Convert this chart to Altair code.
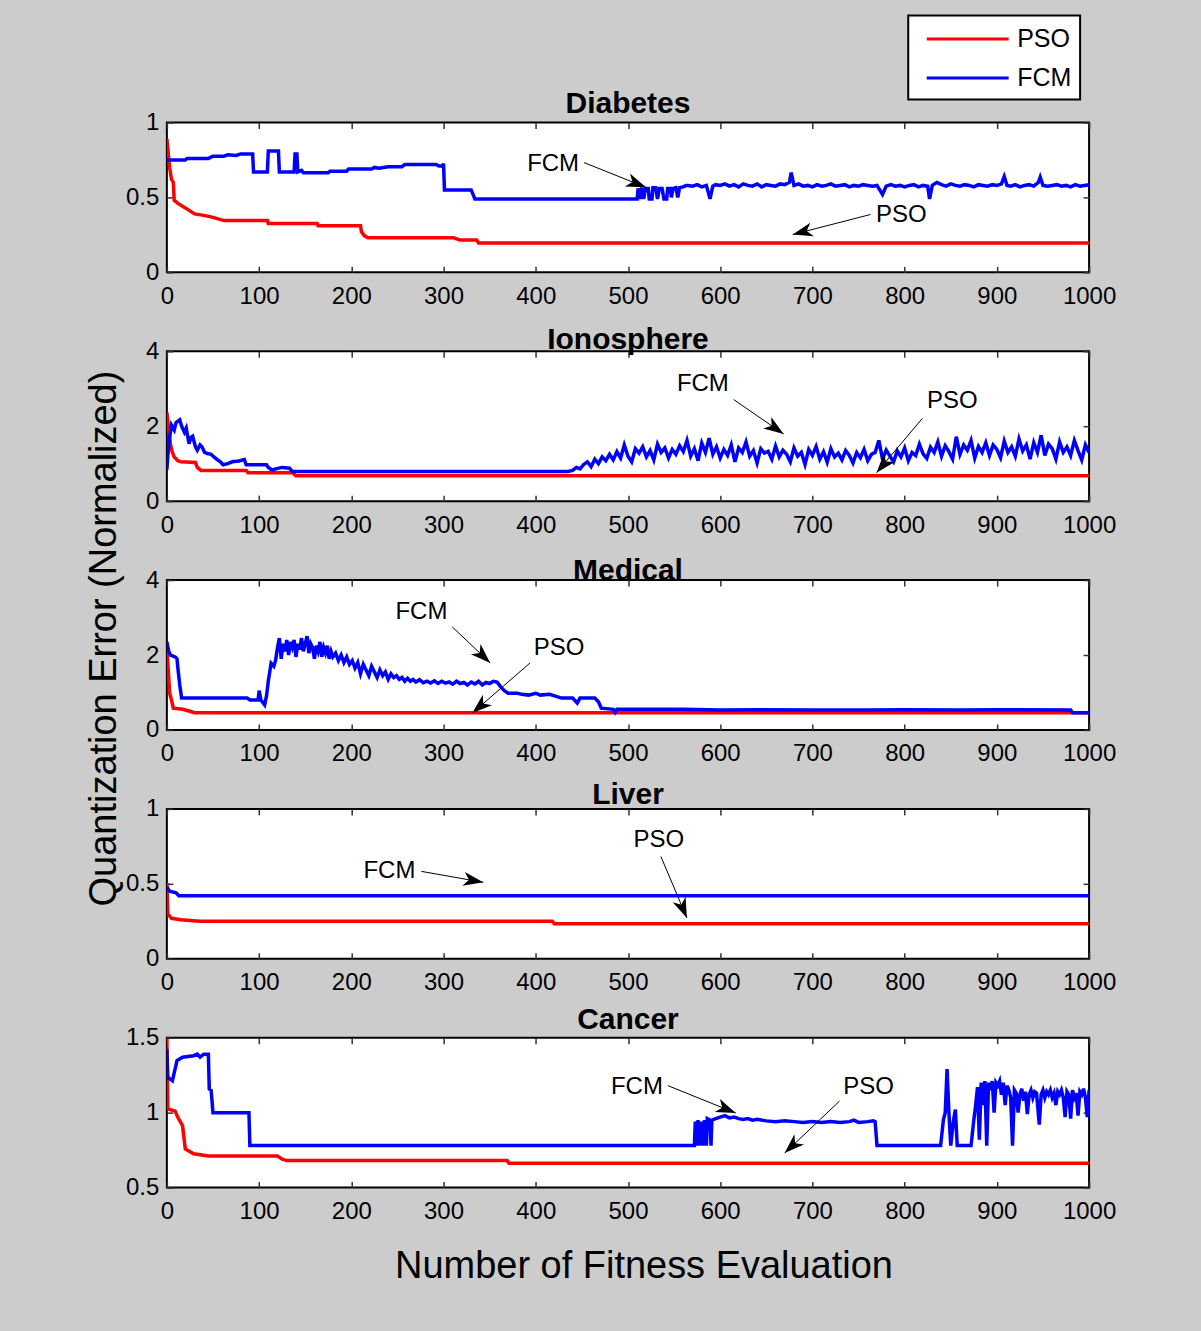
import math
import altair as alt
import pandas as pd

FONT = "Liberation Sans"
SERIES = ["PSO", "FCM"]
SERIES_COLORS = ["#ff0000", "#0000ff"]
X_TICKS = [0, 100, 200, 300, 400, 500, 600, 700, 800, 900, 1000]

# ---------------- data (x = fitness evaluation, y = normalized quantization error)
DIAB_PSO = [(0, 0.89), (3, 0.70), (5, 0.62), (7, 0.60), (8, 0.48), (12, 0.46), (20, 0.43), (30, 0.39),
            (40, 0.38), (48, 0.37), (62, 0.345), (109, 0.345), (110, 0.325), (163, 0.325), (164, 0.31),
            (210, 0.31), (211, 0.27), (214, 0.245), (218, 0.23), (311, 0.23), (318, 0.215), (336, 0.215),
            (338, 0.195), (1000, 0.195)]
DIAB_FCM = [(0, 0.75), (20, 0.75), (22, 0.76), (45, 0.76), (50, 0.775), (62, 0.775), (66, 0.785), (75, 0.78),
            (80, 0.79), (93, 0.79), (94, 0.67), (109, 0.67), (110, 0.81), (121, 0.81), (122, 0.67), (138, 0.67),
            (139, 0.79), (141, 0.79), (142, 0.67), (146, 0.68), (148, 0.665), (175, 0.665), (177, 0.675),
            (195, 0.675), (197, 0.69), (222, 0.69), (225, 0.70), (230, 0.695), (240, 0.705), (255, 0.705),
            (258, 0.72), (292, 0.72), (295, 0.71), (299, 0.71), (300, 0.725), (301, 0.55), (330, 0.55),
            (334, 0.49), (510, 0.49), (511, 0.56), (513, 0.49), (515, 0.565), (517, 0.49), (519, 0.56),
            (522, 0.56), (523, 0.49), (526, 0.49), (527, 0.565), (530, 0.565), (532, 0.49), (534, 0.56),
            (537, 0.56), (539, 0.49), (542, 0.49), (543, 0.56), (546, 0.56), (547, 0.50), (549, 0.56),
            (552, 0.565), (554, 0.50), (556, 0.565), (560, 0.57), (563, 0.58), (565, 0.58), (570, 0.575),
            (575, 0.585), (580, 0.57), (585, 0.58), (589, 0.49), (592, 0.575), (595, 0.585), (600, 0.58),
            (605, 0.59), (610, 0.575), (615, 0.585), (620, 0.57), (625, 0.59), (630, 0.58), (635, 0.575),
            (640, 0.59), (645, 0.57), (650, 0.585), (655, 0.58), (660, 0.575), (665, 0.59), (670, 0.585),
            (675, 0.60), (677, 0.665), (680, 0.58), (685, 0.59), (690, 0.575), (695, 0.58), (700, 0.57),
            (705, 0.585), (710, 0.575), (715, 0.58), (720, 0.59), (725, 0.575), (730, 0.58), (735, 0.585),
            (740, 0.57), (745, 0.58), (750, 0.575), (755, 0.585), (760, 0.58), (765, 0.575), (770, 0.58),
            (776, 0.52), (780, 0.575), (785, 0.585), (790, 0.575), (795, 0.58), (800, 0.57), (805, 0.58),
            (810, 0.585), (815, 0.57), (820, 0.58), (825, 0.575), (827, 0.49), (830, 0.58), (835, 0.60),
            (840, 0.585), (845, 0.575), (850, 0.59), (855, 0.58), (860, 0.575), (865, 0.585), (870, 0.58),
            (875, 0.57), (880, 0.585), (885, 0.58), (890, 0.575), (895, 0.585), (900, 0.58), (905, 0.59),
            (908, 0.64), (911, 0.58), (915, 0.575), (920, 0.585), (925, 0.57), (930, 0.58), (935, 0.585),
            (940, 0.575), (945, 0.60), (947, 0.635), (950, 0.58), (955, 0.575), (960, 0.58), (965, 0.585),
            (970, 0.575), (975, 0.58), (980, 0.57), (985, 0.585), (990, 0.575), (995, 0.58), (1000, 0.585)]

IONO_PSO = [(0, 2.37), (2, 1.9), (4, 1.5), (6, 1.3), (8, 1.18), (12, 1.08), (15, 1.05), (31, 1.03), (33, 0.9),
            (37, 0.82), (86, 0.82), (88, 0.76), (136, 0.76), (140, 0.68), (1000, 0.68)]
IONO_FCM_START = [(0, 0.84), (1, 1.2), (3, 1.7), (5, 2.03), (8, 1.9), (10, 2.1), (14, 2.17), (16, 2.0),
                  (19, 1.84), (21, 1.95), (24, 1.53), (26, 1.7), (28, 1.73), (31, 1.45), (33, 1.36), (36, 1.5),
                  (38, 1.45), (41, 1.3), (44, 1.27), (48, 1.25), (51, 1.18), (55, 1.1), (58, 1.05), (61, 0.97),
                  (66, 1.0), (71, 1.05), (78, 1.07), (84, 1.11), (86, 0.97), (108, 0.97), (110, 0.9),
                  (114, 0.83), (118, 0.86), (125, 0.9), (133, 0.88), (136, 0.79), (435, 0.79)]
# noisy stretch read every 4 evaluations from x = 440 to x = 1000
IONO_FCM_NOISY = [0.82, 0.9, 0.86, 0.98, 1.05, 0.92, 1.12, 1.0, 1.18, 1.08,
                  1.25, 1.1, 1.32, 1.15, 1.5, 1.2, 1.05, 1.4, 1.28, 1.45,
                  1.18, 1.35, 1.1, 1.52, 1.3, 1.42, 1.15, 1.38, 1.25, 1.48,
                  1.32, 1.62, 1.2, 1.4, 1.08, 1.55, 1.3, 1.68, 1.25, 1.45,
                  1.15, 1.38, 1.22, 1.5, 1.05, 1.42, 1.3, 1.58, 1.2, 1.35,
                  1.02, 1.4, 1.28, 1.33, 1.12, 1.47, 1.18, 1.36, 1.25, 1.05,
                  1.42, 1.2, 1.3, 0.98, 1.38, 1.22, 1.46, 1.12, 1.32, 1.04,
                  1.4, 1.18, 1.28, 1.1, 1.35, 1.22, 1.02, 1.3, 1.16, 1.38,
                  1.08, 1.25, 1.3, 1.62, 1.12, 1.36, 1.2, 1.05, 1.34, 1.18,
                  1.42, 1.08, 1.3, 1.22, 1.52, 1.26, 1.14, 1.44, 1.3, 1.58,
                  1.2, 1.48, 1.32, 1.12, 1.72, 1.25, 1.5, 1.36, 1.62, 1.15,
                  1.46, 1.3, 1.56, 1.22, 1.5, 1.38, 1.16, 1.6, 1.3, 1.45,
                  1.2, 1.66, 1.34, 1.5, 1.12, 1.56, 1.3, 1.76, 1.22, 1.52,
                  1.4, 1.12, 1.58, 1.3, 1.45, 1.22, 1.62, 1.35, 1.1, 1.5,
                  1.3]
IONO_FCM = IONO_FCM_START + list(zip(range(440, 1001, 4), IONO_FCM_NOISY))

MED_PSO = [(0, 2.22), (2, 1.4), (3, 0.98), (5, 0.8), (7, 0.58), (17, 0.55), (25, 0.5), (30, 0.46), (1000, 0.46)]
MED_FCM = [(0, 2.35), (2, 2.1), (4, 2.0), (9, 1.95), (11, 1.9), (12, 1.64), (14, 1.2), (16, 0.85), (87, 0.85),
           (90, 0.8), (99, 0.8), (100, 1.05), (102, 0.8), (106, 0.67), (108, 0.9), (110, 1.3), (113, 1.78),
           (116, 1.7), (118, 1.87), (120, 2.2), (122, 2.45), (124, 1.9), (126, 2.3), (128, 2.1), (130, 2.4),
           (132, 2.0), (134, 2.35), (136, 2.2), (138, 2.4), (140, 1.95), (142, 2.3), (144, 2.15), (146, 2.45),
           (148, 2.1), (150, 2.3), (152, 2.5), (154, 2.05), (156, 2.3), (158, 2.2), (160, 1.9), (162, 2.25),
           (164, 2.1), (166, 2.35), (168, 1.95), (170, 2.2), (172, 2.05), (174, 2.25), (176, 1.9), (178, 2.1),
           (180, 1.95), (183, 2.05), (186, 1.85), (189, 2.0), (192, 1.8), (195, 1.95), (198, 1.75), (201, 1.85),
           (204, 1.65), (207, 1.8), (210, 1.5), (213, 1.75), (216, 1.6), (219, 1.45), (222, 1.7), (225, 1.55),
           (228, 1.4), (231, 1.6), (234, 1.45), (237, 1.55), (240, 1.35), (243, 1.5), (246, 1.4), (249, 1.45),
           (252, 1.35), (255, 1.4), (258, 1.3), (261, 1.38), (264, 1.3), (267, 1.35), (270, 1.28), (274, 1.34),
           (278, 1.26), (282, 1.3), (286, 1.25), (290, 1.31), (294, 1.24), (298, 1.3), (302, 1.25), (306, 1.28),
           (310, 1.22), (314, 1.3), (318, 1.24), (322, 1.27), (326, 1.2), (330, 1.28), (334, 1.23), (338, 1.3),
           (342, 1.2), (346, 1.27), (350, 1.24), (354, 1.3), (358, 1.28), (362, 1.15), (366, 1.05), (370, 0.98),
           (380, 0.98), (385, 0.95), (392, 0.93), (400, 0.98), (405, 0.93), (415, 0.95), (428, 0.85),
           (440, 0.85), (445, 0.72), (448, 0.85), (464, 0.85), (468, 0.75), (471, 0.58), (484, 0.55),
           (486, 0.47), (488, 0.55), (520, 0.55), (560, 0.55), (600, 0.53), (640, 0.54), (700, 0.53),
           (760, 0.53), (800, 0.54), (860, 0.53), (900, 0.54), (980, 0.53), (982, 0.46), (1000, 0.46)]

LIV_PSO = [(0, 0.505), (1, 0.30), (5, 0.27), (15, 0.26), (36, 0.25), (418, 0.25), (420, 0.234), (1000, 0.234)]
LIV_FCM = [(0, 0.48), (3, 0.45), (10, 0.44), (13, 0.42), (1000, 0.42)]

CAN_PSO = [(0, 1.5), (1, 1.025), (9, 1.01), (12, 0.967), (17, 0.913), (20, 0.758), (29, 0.725), (45, 0.71),
           (120, 0.71), (125, 0.69), (130, 0.68), (369, 0.68), (371, 0.662), (1000, 0.662)]
CAN_FCM = [(0, 1.425), (1, 1.235), (6, 1.213), (11, 1.347), (17, 1.37), (29, 1.38), (33, 1.39), (36, 1.37),
           (40, 1.39), (45, 1.39), (46, 1.158), (48, 1.15), (50, 1.0), (89, 1.0), (90, 0.78), (572, 0.78),
           (573, 0.94), (574, 0.78), (576, 0.95), (577, 0.78), (580, 0.94), (581, 0.78), (583, 0.95),
           (585, 0.78), (586, 0.96), (589, 0.95), (590, 0.78), (591, 0.95), (595, 0.96), (600, 0.97),
           (605, 0.98), (610, 0.965), (615, 0.97), (620, 0.96), (625, 0.955), (630, 0.96), (635, 0.95),
           (640, 0.955), (650, 0.945), (660, 0.94), (670, 0.945), (680, 0.94), (690, 0.935), (700, 0.94),
           (710, 0.935), (720, 0.94), (730, 0.935), (740, 0.94), (745, 0.95), (750, 0.935), (760, 0.94),
           (766, 0.945), (768, 0.94), (770, 0.78), (839, 0.78), (842, 0.95), (844, 1.0), (846, 1.29),
           (848, 1.0), (850, 0.78), (853, 0.95), (855, 1.02), (857, 0.78), (872, 0.78), (875, 0.95),
           (877, 1.05), (879, 1.17), (881, 0.82), (883, 1.2), (885, 1.05), (887, 1.21), (889, 0.78),
           (891, 1.2), (893, 1.15), (895, 1.21), (897, 1.0), (899, 1.2), (901, 1.18), (903, 1.21),
           (905, 1.12), (907, 1.2), (909, 1.05), (911, 1.18), (913, 1.15), (915, 1.1), (917, 0.78),
           (919, 1.15), (921, 1.13), (923, 1.0), (925, 1.12), (927, 1.16), (929, 1.08), (931, 1.14),
           (933, 0.99), (935, 1.12), (937, 1.15), (939, 1.1), (941, 1.14), (943, 1.13), (946, 0.92),
           (948, 1.12), (950, 1.15), (952, 1.1), (954, 1.14), (956, 1.12), (958, 1.15), (960, 1.1),
           (962, 1.13), (964, 1.05), (966, 1.14), (968, 1.12), (970, 1.15), (972, 1.1), (974, 0.97),
           (976, 1.14), (978, 1.12), (980, 0.96), (982, 1.15), (984, 1.1), (986, 1.13), (988, 0.98),
           (990, 1.14), (992, 1.12), (994, 1.16), (996, 1.1), (998, 0.97), (1000, 1.15)]

# annotations: (label, text x, text y, arrow start x, start y, arrow tip x, tip y)
DIAB_ANN = [("FCM", 418.8, 0.725, 452.4, 0.732, 519.5, 0.567),
            ("PSO", 796.5, 0.383, 763.0, 0.386, 678.6, 0.252)]
IONO_ANN = [("FCM", 581.2, 3.13, 614.7, 2.71, 668.8, 1.79),
            ("PSO", 851.7, 2.66, 819.3, 2.21, 769.5, 0.76)]
MED_ANN = [("FCM", 276.0, 3.15, 309.5, 2.75, 350.6, 1.79),
           ("PSO", 425.3, 2.19, 393.9, 1.79, 331.2, 0.45)]
LIV_ANN = [("FCM", 241.3, 0.583, 276.0, 0.583, 343.1, 0.51),
           ("PSO", 533.5, 0.795, 535.7, 0.682, 563.9, 0.272)]
CAN_ANN = [("FCM", 509.7, 1.173, 543.3, 1.18, 616.9, 0.997),
           ("PSO", 760.8, 1.173, 729.4, 1.077, 669.9, 0.73)]

TITLES = ["Diabetes", "Ionosphere", "Medical", "Liver", "Cancer"]
Y_DOMAINS = [[0, 1], [0, 4], [0, 4], [0, 1], [0.5, 1.5]]
Y_TICKS = [[0, 0.5, 1], [0, 2, 4], [0, 2, 4], [0, 0.5, 1], [0.5, 1, 1.5]]

# ---------------- layout / style
W, H = 923, 150
TITLE_OFFSETS = [-33, -40, -42, -37, -33]
ARROW = "M0,0L0.7,2L0,1.45L-0.7,2Z"

LEGEND = alt.Legend(
    orient="none", legendX=742, legendY=-107, title=None,
    symbolType="M-3,0H3", symbolSize=747, symbolStrokeWidth=3, symbolOffset=36,
    labelOffset=34, labelFontSize=25, labelFont=FONT, labelColor="black",
    padding=8, rowPadding=10, strokeColor="black", fillColor="white",
)


def tick_axis(orient, values):
    return alt.Axis(orient=orient, values=values, labels=False, domain=False, grid=False,
                    ticks=True, tickSize=6, tickColor="#333333", tickWidth=1.5, offset=-6, title=None)


def panel(k, pso, fcm, ann):
    rows = []
    for name, pts in (("PSO", pso), ("FCM", fcm)):
        for i, (a, b) in enumerate(pts):
            rows.append({"x": a, "y": b, "series": name, "i": i})
    df = pd.DataFrame(rows)

    ydom = Y_DOMAINS[k]
    yppu = H / (ydom[1] - ydom[0])
    xppu = W / 1000.0
    arows = []
    for lab, tx, ty, sx, sy, ex, ey in ann:
        dx = (ex - sx) * xppu
        dy = -(ey - sy) * yppu
        ang = (math.degrees(math.atan2(dx, -dy)) + 360.0) % 360.0
        arows.append({"label": lab, "tx": tx, "ty": ty, "sx": sx, "sy": sy,
                      "ex": ex, "ey": ey, "angle": ang})
    adf = pd.DataFrame(arows)

    xsc = alt.Scale(domain=[0, 1000], nice=False, zero=False)
    ysc = alt.Scale(domain=ydom, nice=False, zero=False)

    xkw = dict(orient="bottom", values=X_TICKS, format="d", ticks=False, domain=False, grid=False,
               labelFontSize=24, labelFont=FONT, labelColor="black", labelPadding=12,
               labelFlush=False, labelOverlap=False)
    if k == 4:
        xkw.update(title="Number of Fitness Evaluation", titleFontSize=38, titleFont=FONT,
                   titleFontWeight="normal", titleColor="black", titleX=477, titleY=90,
                   titleAlign="center", titleBaseline="alphabetic", titleAngle=0)
    else:
        xkw.update(title=None)

    ykw = dict(orient="left", values=Y_TICKS[k], labelExpr="datum.value + ''", ticks=False,
               domain=False, grid=False, labelFontSize=24, labelFont=FONT, labelColor="black",
               labelPadding=8, labelFlush=False, labelOverlap=False)
    if k == 1:
        ykw.update(title="Quantization Error (Normalized)", titleFontSize=38, titleFont=FONT,
                   titleFontWeight="normal", titleColor="black", titleAngle=270, titleX=-51,
                   titleY=287, titleAlign="center", titleBaseline="alphabetic")
    else:
        ykw.update(title=None)

    lines = alt.Chart(df).mark_line(strokeWidth=3.5, clip=True).encode(
        x=alt.X("x:Q", scale=xsc, axis=alt.Axis(**xkw)),
        y=alt.Y("y:Q", scale=ysc, axis=alt.Axis(**ykw)),
        color=alt.Color("series:N", scale=alt.Scale(domain=SERIES, range=SERIES_COLORS), legend=LEGEND),
        order=alt.Order("i:Q"),
    )
    shafts = alt.Chart(adf).mark_rule(color="black", strokeWidth=1).encode(
        x=alt.X("sx:Q", scale=xsc, axis=tick_axis("bottom", X_TICKS)),
        y=alt.Y("sy:Q", scale=ysc, axis=tick_axis("left", Y_TICKS[k])),
        x2="ex:Q", y2="ey:Q",
    )
    heads = alt.Chart(adf).mark_point(shape=ARROW, filled=True, color="black", size=400,
                                      opacity=1, strokeWidth=0).encode(
        x=alt.X("ex:Q", scale=xsc, axis=tick_axis("top", X_TICKS)),
        y=alt.Y("ey:Q", scale=ysc, axis=tick_axis("right", Y_TICKS[k])),
        angle=alt.Angle("angle:Q", scale=None),
    )
    texts = alt.Chart(adf).mark_text(fontSize=24, font=FONT, color="black", align="center",
                                     baseline="middle").encode(
        x=alt.X("tx:Q", scale=xsc, axis=None),
        y=alt.Y("ty:Q", scale=ysc, axis=None),
        text="label:N",
    )
    return alt.layer(lines, shafts, heads, texts).resolve_axis(
        x="independent", y="independent"
    ).properties(
        width=W, height=H,
        title=alt.TitleParams(TITLES[k], fontSize=30, font=FONT, fontWeight="bold", color="black",
                              anchor="middle", frame="group", baseline="alphabetic",
                              offset=TITLE_OFFSETS[k]),
    )


panels = [
    panel(0, DIAB_PSO, DIAB_FCM, DIAB_ANN),
    panel(1, IONO_PSO, IONO_FCM, IONO_ANN),
    panel(2, MED_PSO, MED_FCM, MED_ANN),
    panel(3, LIV_PSO, LIV_FCM, LIV_ANN),
    panel(4, CAN_PSO, CAN_FCM, CAN_ANN),
]

chart = alt.vconcat(*panels, spacing=79, bounds="flush").properties(
    background="#cccccc",
    padding={"left": 84, "top": 14, "right": 84, "bottom": 50},
).configure_view(
    fill="white", stroke="black", strokeWidth=2
).configure_legend(
    strokeWidth=2
)

chart.save("out.html", embed_options={"renderer": "svg", "actions": False})
